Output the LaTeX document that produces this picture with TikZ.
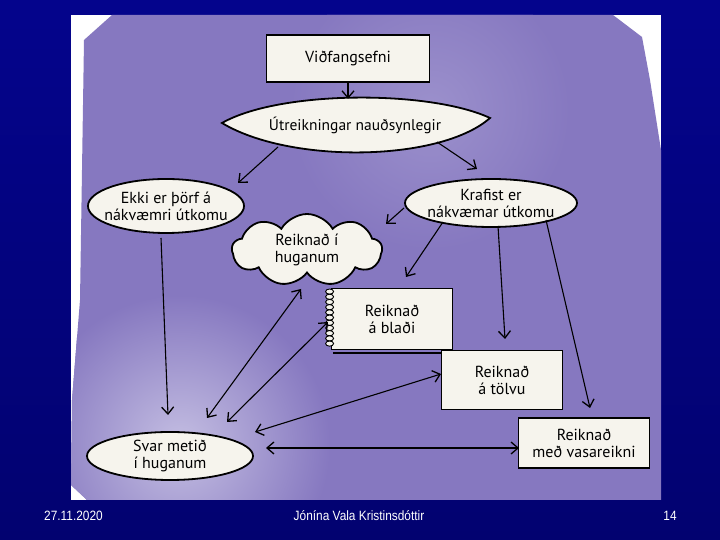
\documentclass[tikz,border=0pt]{standalone}
\usepackage{fontspec}
\setmainfont{PT Sans}
\newfontfamily\footfont[FakeStretch=0.88]{Liberation Sans}
\usetikzlibrary{arrows.meta,shapes.geometric,shapes.symbols,calc}
\definecolor{bgblue}{RGB}{4,4,140}
\definecolor{bgdark}{RGB}{2,2,112}
\definecolor{panelpurple}{RGB}{134,120,192}
\definecolor{panellight}{RGB}{196,190,226}
\definecolor{paper}{RGB}{246,244,237}
\begin{document}
\begin{tikzpicture}[x=1pt,y=1pt,
  lbl/.style={font=\fontsize{16}{17}\selectfont, align=center, text=black},
  boxnode/.style={lbl, draw=black, line width=1.8pt, fill=paper, rectangle, inner sep=0pt},
  ovalnode/.style={lbl, draw=black, line width=1.8pt, fill=paper, ellipse, inner xsep=-10pt, inner ysep=-4pt},
  conn/.style={line width=1.1pt, -{Straight Barb[length=7pt,width=12pt,line width=1.3pt]}},
  biconn/.style={line width=1.1pt, {Straight Barb[length=7pt,width=12pt,line width=1.3pt]}-{Straight Barb[length=7pt,width=12pt,line width=1.3pt]}},
  foot/.style={text=white, font=\footfont\fontsize{13.5}{15}\selectfont, inner sep=0pt}
]
\useasboundingbox (0,0) rectangle (720,540);
% slide background
\shade[top color=bgblue, bottom color=bgdark] (0,0) rectangle (720,540);
% scanned panel
\fill[white] (71,40) rectangle (661,525);
\begin{scope}
  \clip (112,525) -- (613,525) -- (642,503) -- (650,460) -- (661,390) -- (661,40)
        -- (87,40) -- (71,55) -- (72,140) -- (80,240) -- (84,500) -- cycle;
  \fill[panelpurple] (60,30) rectangle (670,530);
  \shade[inner color=panellight, outer color=panelpurple] (180,95) circle (150);
  \shade[inner color=panellight!35!panelpurple, outer color=panelpurple] (430,430) circle (140);
\end{scope}

% lens shape
\coordinate (utc) at (355,415);
\filldraw[fill=paper, draw=black, line width=1.8pt]
  ($(utc)+(-133,2)$) .. controls ($(utc)+(-75,35)$) and ($(utc)+(75,35)$) .. ($(utc)+(135,7)$)
  .. controls ($(utc)+(85,-37)$) and ($(utc)+(-65,-39)$) .. cycle;

% nodes
\node[boxnode, minimum width=163pt, minimum height=47pt] (vid) at (348,481.5) {Viðfangsefni};
\node[lbl, font=\fontsize{15.5}{17}\selectfont, ellipse, minimum width=268pt, minimum height=52pt, inner sep=0pt] (ut) at (utc) {Útreikningar nauðsynlegir};
\node[ovalnode, minimum width=156pt, minimum height=54pt] (ekki) at (166,334) {Ekki er þörf á\\nákvæmri útkomu};
\node[ovalnode, minimum width=172pt, minimum height=48pt] (kraf) at (491,337) {Krafist er\\nákvæmar útkomu};
\node[lbl, cloud, draw=black, line width=1.8pt, fill=paper, cloud puffs=9, cloud puff arc=120,
      aspect=2.1, minimum width=150pt, minimum height=72pt, inner sep=-4pt] (cld) at (307,290) {Reiknað í\\huganum};
\draw[line width=1.4pt] (333,187) -- (455,187);
\node[boxnode, minimum width=121pt, minimum height=61pt] (blad) at (392,221) {Reiknað\\á blaði};
\foreach \k in {0,...,10}
  \draw[line width=0.9pt, fill=paper] ($(blad.north west)+(-1,-4-5.2*\k)$) ellipse (4pt and 2.6pt);
\node[boxnode, minimum width=121pt, minimum height=59pt] (tolvu) at (502,160) {Reiknað\\á tölvu};
\node[boxnode, minimum width=131pt, minimum height=50pt] (vasa) at (584,97) {Reiknað\\með vasareikni};
\node[ovalnode, minimum width=166pt, minimum height=48pt] (svar) at (170,84) {Svar metið\\í huganum};

% connectors
\draw[conn] (vid.south) -- (vid.south |- ut.north);
\draw[conn] ($(ut)+(-77,-22)$) -- ($(ekki)+(72,23)$);
\draw[conn] ($(ut)+(82,-17)$) -- ($(kraf)+(-14,34)$);
\draw[conn] ($(kraf)+(-87,-5)$) -- ($(cld)+(79,26)$);
\draw[conn] ($(kraf)+(-48,-19)$) -- ($(blad)+(14,42)$);
\draw[conn] ($(kraf)+(7,-23)$) -- ($(tolvu)+(3,41)$);
\draw[conn] ($(kraf)+(55,-17)$) -- ($(vasa)+(6,35)$);
\draw[conn] ($(ekki)+(-5,-32)$) -- ($(svar)+(-2,41)$);
\draw[biconn] ($(svar)+(37,38)$) -- ($(cld)+(-6,-39)$);
\draw[biconn] ($(svar)+(57,34)$) -- ($(blad)+(-64,-3)$);
\draw[biconn] ($(svar)+(85,24)$) -- ($(tolvu)+(-61,6)$);
\draw[biconn] ($(svar)+(96,8)$) -- ($(vasa)+(-65,-5)$);

% footer
\node[foot, anchor=west] (date) at (44,24) {27.11.2020};
\node[foot] (auth) at (359,24) {Jónína Vala Kristinsdóttir};
\node[foot] (pg) at (670,24) {14};
\end{tikzpicture}
\end{document}
